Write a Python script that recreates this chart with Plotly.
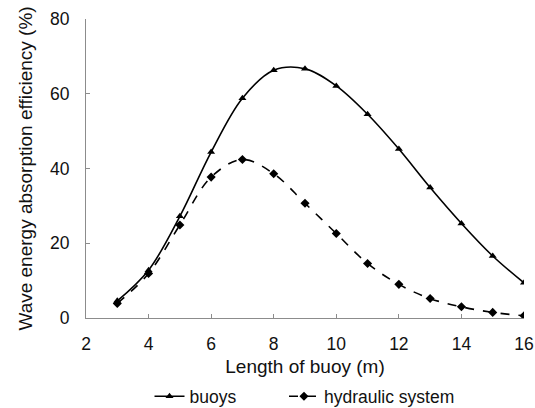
import plotly.graph_objects as go

length_m = [3, 4, 5, 6, 7, 8, 9, 10, 11, 12, 13, 14, 15, 16]
buoys = [4.6, 12.8, 27.2, 44.4, 58.8, 66.3, 66.7, 62.1, 54.5, 45.2, 34.9, 25.3, 16.6, 9.4]
hydraulic = [3.9, 11.9, 24.9, 37.7, 42.4, 38.6, 30.7, 22.6, 14.6, 9.0, 5.2, 3.0, 1.5, 0.6]

x_ticks = [2, 4, 6, 8, 10, 12, 14, 16]
y_ticks = [0, 20, 40, 60, 80]

FONT = "Liberation Sans, Arial, sans-serif"

fig = go.Figure()
fig.add_trace(go.Scatter(
    x=length_m, y=buoys, name="buoys", mode="lines+markers",
    line=dict(color="black", width=1.6, shape="spline", smoothing=1.0),
    marker=dict(symbol="triangle-up", size=7, color="black"),
    legend="legend",
))
fig.add_trace(go.Scatter(
    x=length_m, y=hydraulic, name="hydraulic system", mode="lines+markers",
    line=dict(color="black", width=1.6, dash="dash", shape="spline", smoothing=1.0),
    marker=dict(symbol="diamond", size=7, color="black"),
    legend="legend2",
))

axis_common = dict(
    showgrid=False, zeroline=False, showline=True, linecolor="#8c8c8c", linewidth=1,
    ticks="inside", ticklen=4, tickcolor="#8c8c8c", automargin=False,
    tickfont=dict(family=FONT, size=17.5, color="#111111"),
)

legend_common = dict(
    orientation="h", xanchor="left", yanchor="middle", y=-0.262,
    itemwidth=30,
    font=dict(family=FONT, size=17.5, color="#111111"),
    bgcolor="rgba(0,0,0,0)",
)

fig.update_layout(
    width=535, height=408,
    margin=dict(l=86, r=11, t=19, b=90, autoexpand=False),
    paper_bgcolor="white", plot_bgcolor="white",
    font=dict(family=FONT, size=17.5, color="#111111"),
    xaxis=dict(
        range=[2, 16], tickvals=x_ticks, ticktext=[str(v) for v in x_ticks],
        title=dict(text="Length of buoy (m)", font=dict(family=FONT, size=19), standoff=6),
        ticklabelstandoff=10,
        **axis_common,
    ),
    yaxis=dict(
        range=[0, 80], tickvals=y_ticks, ticktext=[str(v) for v in y_ticks],
        title=dict(text="Wave energy absorption efficiency (%)", font=dict(family=FONT, size=19), standoff=12),
        ticklabelstandoff=12,
        **axis_common,
    ),
    showlegend=True,
    legend=dict(x=0.145, **legend_common),
    legend2=dict(x=0.452, **legend_common),
)

fig.write_html("out.html")
